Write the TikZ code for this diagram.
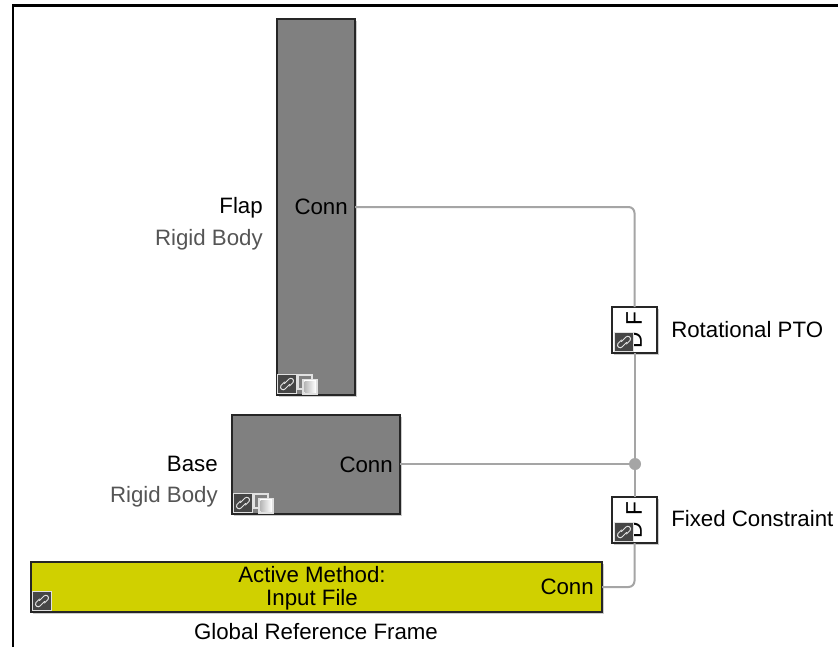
\documentclass[tikz,border=0pt]{standalone}
\usepackage{fontspec}
\setmainfont{Liberation Sans}
\usetikzlibrary{calc}
\definecolor{blockgray}{RGB}{128,128,128}
\definecolor{olive}{RGB}{208,208,0}
\definecolor{wire}{RGB}{165,165,165}
\definecolor{sublabel}{RGB}{85,85,85}
\definecolor{icondark}{RGB}{70,70,70}
\definecolor{iconlight}{RGB}{225,225,225}
\tikzset{
  x=0.75pt,y=-0.75pt,
  blockbox/.style={draw=black!85,line width=1.1pt,anchor=north west,inner sep=0pt,outer sep=0pt},
  shadowbox/.style={fill=black!20,draw=none},
  wireline/.style={draw=wire,line width=1.5pt,rounded corners=4.5pt},
  lab/.style={font=\fontsize{16.7}{17.3}\selectfont,inner sep=0pt,text=black},
  sublab/.style={lab,text=sublabel},
  linkline/.style={iconlight,line width=.75pt,line cap=round},
  pics/linkicon/.style={code={
    \fill[iconlight] (-1,-1) rectangle (19,19);
    \fill[icondark] (0,0) rectangle (18,18);
    \draw[linkline] (6.5,8.5) -- (11,4) .. controls (13,2) and (17,4.5) .. (15,7.5) -- (11.5,11);
    \draw[linkline] (11.5,9.5) -- (7,14) .. controls (5,16) and (1,13.5) .. (3,10.5) -- (6.5,7);
  }},
  pics/copyicon/.style={code={
    \draw[iconlight,line width=.9pt,fill=blockgray] (0,0) rectangle (14,14);
    \draw[iconlight,line width=.9pt,fill=white] (5,4.5) rectangle (19,19);
    \shade[left color=gray!55,right color=white] (6.5,6) rectangle (17.5,17.5);
  }},
  pics/dficon/.style={code={
    \node[rotate=90,font=\fontsize{17}{17}\selectfont,inner sep=0pt] at (0,0) {D\hspace{5pt}F};
  }},
}
\begin{document}
\begin{tikzpicture}
\useasboundingbox (0,0) rectangle (838,647);
\fill[white] (0,0) rectangle (838,647);
% frame
\draw[black,line width=1.9pt] (13,647) -- (13,5.5) -- (838,5.5);

% shadows
\fill[shadowbox] (279,21) rectangle (357,397);
\fill[shadowbox] (234,417) rectangle (402,516);
\fill[shadowbox] (33,564) rectangle (604,614);
\fill[shadowbox] (614,309) rectangle (659,355);
\fill[shadowbox] (614,499) rectangle (659,545);

% blocks
\node[blockbox,fill=blockgray,minimum width=58.5pt,minimum height=282pt] (flap) at (277,19) {};
\node[blockbox,fill=blockgray,minimum width=126pt,minimum height=74.25pt] (base) at (232,415) {};
\node[blockbox,fill=olive,minimum width=428.25pt,minimum height=37.5pt] (grf) at (31,562) {};
\node[blockbox,fill=white,minimum width=33.75pt,minimum height=34.5pt] (pto) at (612,307) {};
\node[blockbox,fill=white,minimum width=33.75pt,minimum height=34.5pt] (fixed) at (612,497) {};
\coordinate (junction) at (635,464);
\coordinate (flapport) at ($(flap.north east)+(0,188)$);
\coordinate (baseport) at ($(base.north east)+(0,49)$);
\coordinate (grfport) at ($(grf.north east)+(0,25)$);

% wires
\draw[wireline] (flapport) -| (pto.north);
\draw[wireline] (pto.south) -- (fixed.north);
\draw[wireline] (baseport) -- (junction);
\draw[wireline] (fixed.south) |- (grfport);
\fill[wire] (junction) circle (6);

% block text
\node[lab,anchor=east] (flapconn) at (348,207) {Conn};
\node[lab,anchor=east] (baseconn) at (393,465) {Conn};
\node[lab,anchor=east] (grfconn) at (594,587) {Conn};
\node[lab,align=center] (grftext) at (312,588) {Active Method:\\Input File};

% labels
\node[lab,anchor=east] (flapname) at (263,208) {Flap};
\node[sublab,anchor=east] (flapsub) at (263,240) {Rigid Body};
\node[lab,anchor=east] (basename) at (218,464) {Base};
\node[sublab,anchor=east] (basesub) at (218,497) {Rigid Body};
\node[lab,anchor=west] (ptoname) at (671,330) {Rotational PTO};
\node[lab,anchor=west] (fixedname) at (671,519) {Fixed Constraint};
\node[lab] (grfname) at (316,632) {Global Reference Frame};

% icons
\pic at (278,375) {linkicon};
\pic at (298,375) {copyicon};
\pic at (234,494) {linkicon};
\pic at (254,494) {copyicon};
\pic at (33,592) {linkicon};
\pic at (634,330) {dficon};
\pic at (634,520) {dficon};
\pic at (615,333) {linkicon};
\pic at (615,523) {linkicon};
\end{tikzpicture}
\end{document}
